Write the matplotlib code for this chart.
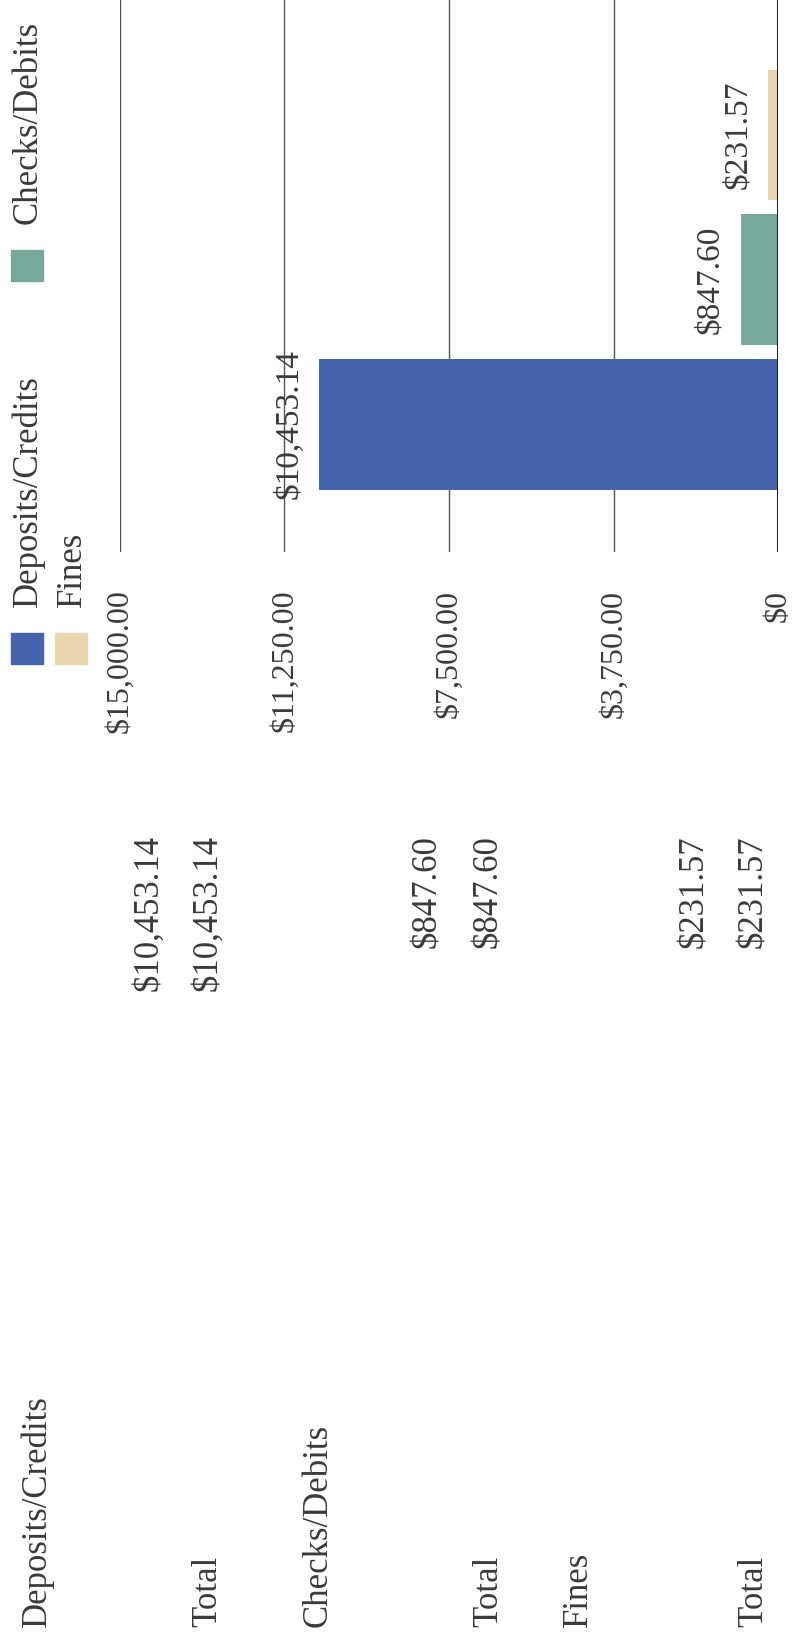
import matplotlib.pyplot as plt
from matplotlib.patches import Rectangle

# data
categories = ["Deposits/Credits", "Checks/Debits", "Fines"]
amounts = [10453.14, 847.60, 231.57]
bar_colors = ["#4664ae", "#77a99a", "#e9d6ae"]
ticks = [0, 3750, 7500, 11250, 15000]
tick_labels = ["$0", "$3,750.00", "$7,500.00", "$11,250.00", "$15,000.00"]

W, H = 796, 1637
plt.rcParams['font.family'] = ['Liberation Serif', 'DejaVu Serif']
txt = "#3a3a3a"

fig = plt.figure(figsize=(W / 100, H / 100), dpi=100)
fig.patch.set_facecolor("white")


def fx(px):
    return px / W


def fy(py):
    return 1 - py / H


# chart (drawn sideways, like the scanned page)
ax = fig.add_axes([fx(120), fy(552), fx(778) - fx(120), 552 / H])
pos = list(range(len(categories)))
ax.barh(pos, amounts, height=0.9, color=bar_colors, zorder=3)
ax.set_xlim(15000, 0)
ax.set_ylim(-0.88, 2.93)
ax.set_xticks(ticks)
ax.set_xticklabels(tick_labels, rotation=90, va="top", ha="center",
                   fontsize=23, color=txt)
ax.tick_params(axis="x", length=0, pad=27)
ax.set_yticks([])
ax.grid(axis="x", color="#555555", lw=1, zorder=1)
ax.axvline(0, color="#222222", lw=2.2, zorder=4)
for s in ax.spines.values():
    s.set_visible(False)

for i, v in enumerate(amounts):
    ax.annotate("${:,.2f}".format(v), xy=(v, i), xytext=(-11, 0),
                textcoords="offset points", rotation=90, ha="right",
                va="center", fontsize=24, color=txt, zorder=5)

# legend
sq_y = [633, 250]
for i, (name, c) in enumerate(zip(categories, bar_colors)):
    row, col = i // 2, i % 2
    x0 = 11 + row * 44
    y0 = sq_y[col]
    fig.add_artist(Rectangle((fx(x0), fy(y0 + 31)), 32 / W, 31 / H,
                             transform=fig.transFigure, color=c))
    fig.text(fx(x0 + 17), fy(y0 - 26), name, rotation=90, ha="center",
             va="bottom", fontsize=25, color=txt)

# table below the chart
row_x = [37, 149, 208, 318, 428, 489, 578, 695, 754]
for i, (name, v) in enumerate(zip(categories, amounts)):
    xh, xv, xt = row_x[3 * i:3 * i + 3]
    val = "${:,.2f}".format(v)
    fig.text(fx(xh), fy(1627), name, rotation=90, ha="center", va="bottom",
             fontsize=25, color=txt)
    fig.text(fx(xv), fy(835), val, rotation=90, ha="center", va="top",
             fontsize=25, color=txt)
    fig.text(fx(xt), fy(1627), "Total", rotation=90, ha="center",
             va="bottom", fontsize=25, color=txt)
    fig.text(fx(xt), fy(835), val, rotation=90, ha="center", va="top",
             fontsize=25, color=txt)

fig.savefig("out.png", dpi=100, facecolor="white")
